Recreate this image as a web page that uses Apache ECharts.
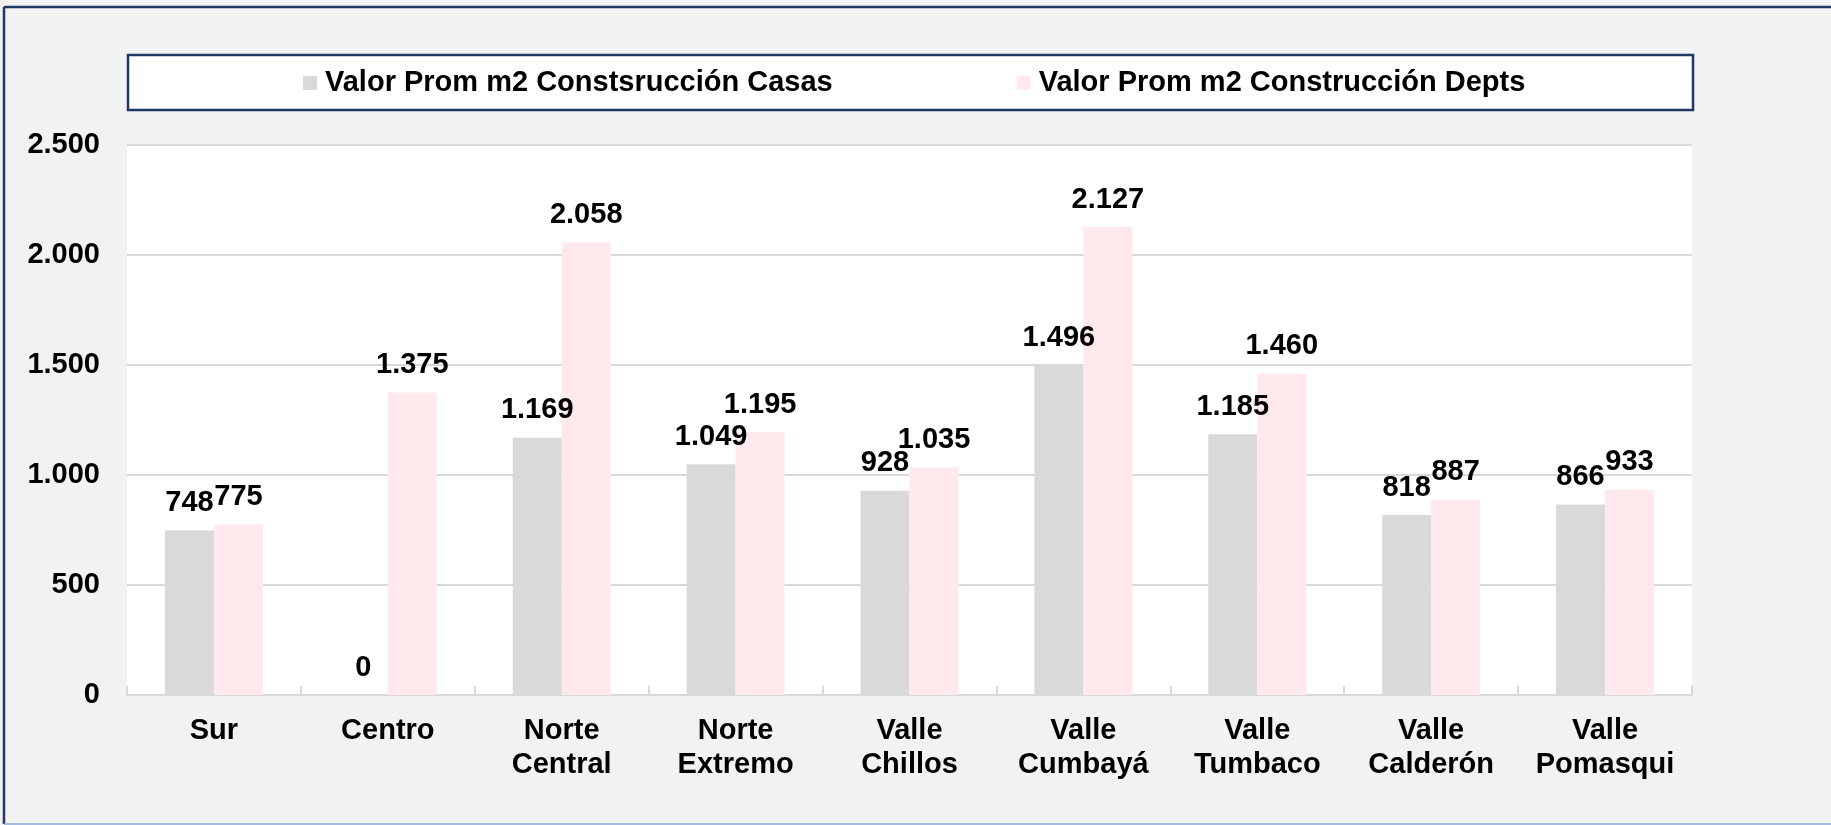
<!DOCTYPE html>
<html>
<head>
<meta charset="utf-8">
<script src="https://cdn.jsdelivr.net/npm/echarts@6/dist/echarts.min.js"></script>
<style>
    html, body { margin: 0; padding: 0; background: #f2f2f2; }
    #chart { width: 1831px; height: 825px; }
</style>
</head>
<body>
<div id="chart"></div>
<script>
// datos del grafico
var categorias = ['Sur', 'Centro', 'Norte\nCentral', 'Norte\nExtremo', 'Valle\nChillos',
    'Valle\nCumbayá', 'Valle\nTumbaco', 'Valle\nCalderón', 'Valle\nPomasqui'];
var casas = [748, 0, 1169, 1049, 928, 1496, 1185, 818, 866];
var depts = [775, 1375, 2058, 1195, 1035, 2127, 1460, 887, 933];
var ticksY = ['0', '500', '1.000', '1.500', '2.000', '2.500'];
var nombreCasas = 'Valor Prom m2 Constsrucción Casas';
var nombreDepts = 'Valor Prom m2 Construcción Depts';

(function () {
    var myChart = echarts.init(document.getElementById('chart'));
    var fuente = 'Liberation Sans, Arial, sans-serif';

    // separador de miles con punto
    function miles(v) {
        return String(v).replace(/\B(?=(\d{3})+(?!\d))/g, '.');
    }

    var etiqueta = {
        show: true,
        position: 'top',
        distance: 13,
        color: '#000',
        fontSize: 29,
        fontWeight: 'bold',
        fontFamily: fuente,
        formatter: function (p) { return miles(p.value); }
    };

    var option = {
        backgroundColor: '#f2f2f2',
        animation: false,
        graphic: [
            // marco exterior
            { type: 'line', shape: { x1: 4, y1: 7, x2: 1831, y2: 7 }, style: { stroke: '#1f3864', lineWidth: 2.5 } },
            { type: 'line', shape: { x1: 4, y1: 7, x2: 4, y2: 824 }, style: { stroke: '#1f3864', lineWidth: 2.5 } },
            { type: 'line', shape: { x1: 4, y1: 824, x2: 1831, y2: 824 }, style: { stroke: '#8faadc', lineWidth: 1.5 } },
            // caja de la leyenda
            { type: 'rect', z: -1, shape: { x: 128, y: 55, width: 1565, height: 55 },
              style: { fill: '#fff', stroke: '#1f3864', lineWidth: 2.5 } }
        ],
        legend: {
            left: 303,
            top: 67,
            padding: 0,
            itemWidth: 14,
            itemHeight: 14,
            itemGap: 184,
            icon: 'rect',
            textStyle: { color: '#000', fontSize: 29, fontWeight: 'bold', fontFamily: fuente, lineHeight: 32, padding: [0, 0, 0, 3] },
            data: [nombreCasas, nombreDepts]
        },
        grid: {
            left: 127,
            right: 139,
            top: 145,
            bottom: 130,
            show: true,
            backgroundColor: '#fff',
            borderWidth: 0
        },
        xAxis: {
            type: 'category',
            data: categorias,
            axisLine: { lineStyle: { color: '#d9d9d9', width: 2 } },
            axisTick: { show: true, inside: true, length: 9, lineStyle: { color: '#d9d9d9', width: 2 } },
            axisLabel: {
                color: '#000', fontSize: 29, fontWeight: 'bold', fontFamily: fuente,
                lineHeight: 34, margin: 19, interval: 0
            }
        },
        yAxis: {
            type: 'value',
            min: 0,
            max: 2500,
            interval: 500,
            axisLine: { show: false },
            axisTick: { show: false },
            axisLabel: {
                color: '#000', fontSize: 29, fontWeight: 'bold', fontFamily: fuente, margin: 27,
                formatter: function (v) { return ticksY[Math.round(v / 500)]; }
            },
            splitLine: { lineStyle: { color: '#d9d9d9', width: 2 } }
        },
        series: [
            {
                name: nombreCasas,
                type: 'bar',
                barWidth: 49,
                barGap: '0%',
                data: casas,
                itemStyle: { color: '#d9d9d9' },
                label: etiqueta
            },
            {
                name: nombreDepts,
                type: 'bar',
                barWidth: 49,
                barGap: '0%',
                data: depts,
                itemStyle: { color: '#ffe9ec' },
                label: etiqueta
            }
        ]
    };

    myChart.setOption(option);
    window.addEventListener('resize', function () {
        myChart.resize();
    });
})();
</script>
</body>
</html>
